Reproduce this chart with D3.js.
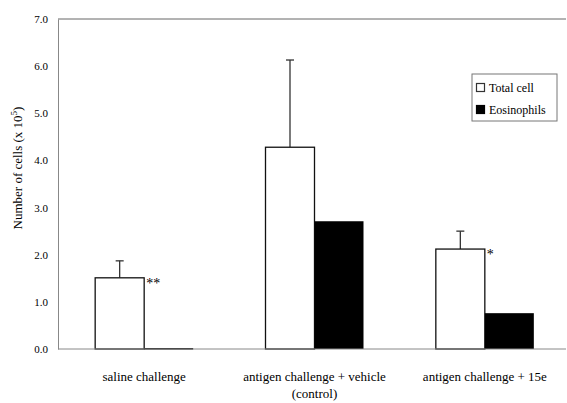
<!DOCTYPE html>
<html><head><meta charset="utf-8">
<script src="https://cdn.jsdelivr.net/npm/d3@7"></script>
<style>body{margin:0;background:#fff}svg{display:block}text{font-family:"Liberation Serif","Times New Roman",serif;fill:#000}</style>
</head><body><svg id="c" width="567" height="403"></svg>
<script>
const categories = ["saline challenge", "antigen challenge + vehicle", "antigen challenge + 15e"];
const subLabels = ["", "(control)", ""];
const series = ["Total cell", "Eosinophils"];
const totalCell = [1.51, 4.28, 2.12];
const totalErr = [0.36, 1.85, 0.38];
const eosinophils = [0.02, 2.71, 0.76];
const marks = ["**", "", "*"];
const yTicks = [0, 1, 2, 3, 4, 5, 6, 7];

const svg = d3.select("#c");
const x0 = 58, yTop = 19, yBot = 349, xEnd = 566;
const y = d3.scaleLinear().domain([0, 7]).range([yBot, yTop]);
const x = d3.scaleBand().domain(categories).range([59, 570]);
const xs = d3.scaleBand().domain(series).range([0, 98]);

// frame lines
svg.append("line").attr("x1", x0).attr("x2", xEnd).attr("y1", yTop).attr("y2", yTop).attr("stroke", "#666").attr("stroke-width", 1);

// y axis
const yAxis = d3.axisLeft(y).tickValues(yTicks).tickSize(0).tickPadding(10).tickFormat(d3.format(".1f"));
const ga = svg.append("g").attr("transform", `translate(${x0},0)`).call(yAxis);
ga.select(".domain").attr("stroke", "#888");
ga.selectAll("text").style("font-size", "11px").style("font-family", '"Liberation Serif",serif');

// bars
const g = svg.append("g");
categories.forEach((c, i) => {
  const cx = x(c) + x.bandwidth() / 2 - 49;
  // error bar
  const bx = cx + xs("Total cell") + xs.bandwidth() / 2;
  g.append("line").attr("x1", bx).attr("x2", bx).attr("y1", y(totalCell[i])).attr("y2", y(totalCell[i] + totalErr[i])).attr("stroke", "#333").attr("stroke-width", 1.3);
  g.append("line").attr("x1", bx - 4).attr("x2", bx + 4).attr("y1", y(totalCell[i] + totalErr[i])).attr("y2", y(totalCell[i] + totalErr[i])).attr("stroke", "#333").attr("stroke-width", 1.3);
  g.append("rect").attr("x", cx + xs("Total cell")).attr("y", y(totalCell[i])).attr("width", xs.bandwidth()).attr("height", yBot - y(totalCell[i]))
    .attr("fill", "#fff").attr("stroke", "#111").attr("stroke-width", 1.3);
  g.append("rect").attr("x", cx + xs("Eosinophils")).attr("y", y(eosinophils[i])).attr("width", xs.bandwidth()).attr("height", Math.max(1.5, yBot - y(eosinophils[i])))
    .attr("fill", "#000");
  if (marks[i]) {
    svg.append("text").attr("x", cx + xs.bandwidth() + 2).attr("y", y(totalCell[i]) + 10).style("font-size", "14px").text(marks[i]);
  }
  svg.append("text").attr("x", x(c) + x.bandwidth() / 2).attr("y", 381).attr("text-anchor", "middle").style("font-size", "13px").text(c);
  if (subLabels[i]) svg.append("text").attr("x", x(c) + x.bandwidth() / 2).attr("y", 398).attr("text-anchor", "middle").style("font-size", "13px").text(subLabels[i]);
});

// x axis line
svg.append("line").attr("x1", x0).attr("x2", xEnd).attr("y1", yBot).attr("y2", yBot).attr("stroke", "#888").attr("stroke-width", 1);

// y label
const yl = svg.append("text").attr("transform", "translate(22,168) rotate(-90)").attr("text-anchor", "middle").style("font-size", "13px");
yl.append("tspan").text("Number of cells (x 10");
yl.append("tspan").attr("dy", -5).style("font-size", "9px").text("5");
yl.append("tspan").attr("dy", 5).text(")");

// legend
const lg = svg.append("g").attr("transform", "translate(472,74)");
lg.append("rect").attr("width", 85).attr("height", 47).attr("fill", "#fff").attr("stroke", "#777").attr("stroke-width", 1);
series.forEach((s, i) => {
  lg.append("rect").attr("x", 4.5).attr("y", 9.5 + i * 22).attr("width", 8).attr("height", 8)
    .attr("fill", i === 0 ? "#fff" : "#000").attr("stroke", i === 0 ? "#333" : "#000").attr("stroke-width", 1.2);
  lg.append("text").attr("x", 17).attr("y", 18 + i * 22).style("font-size", "12px").text(s);
});
</script></body></html>
